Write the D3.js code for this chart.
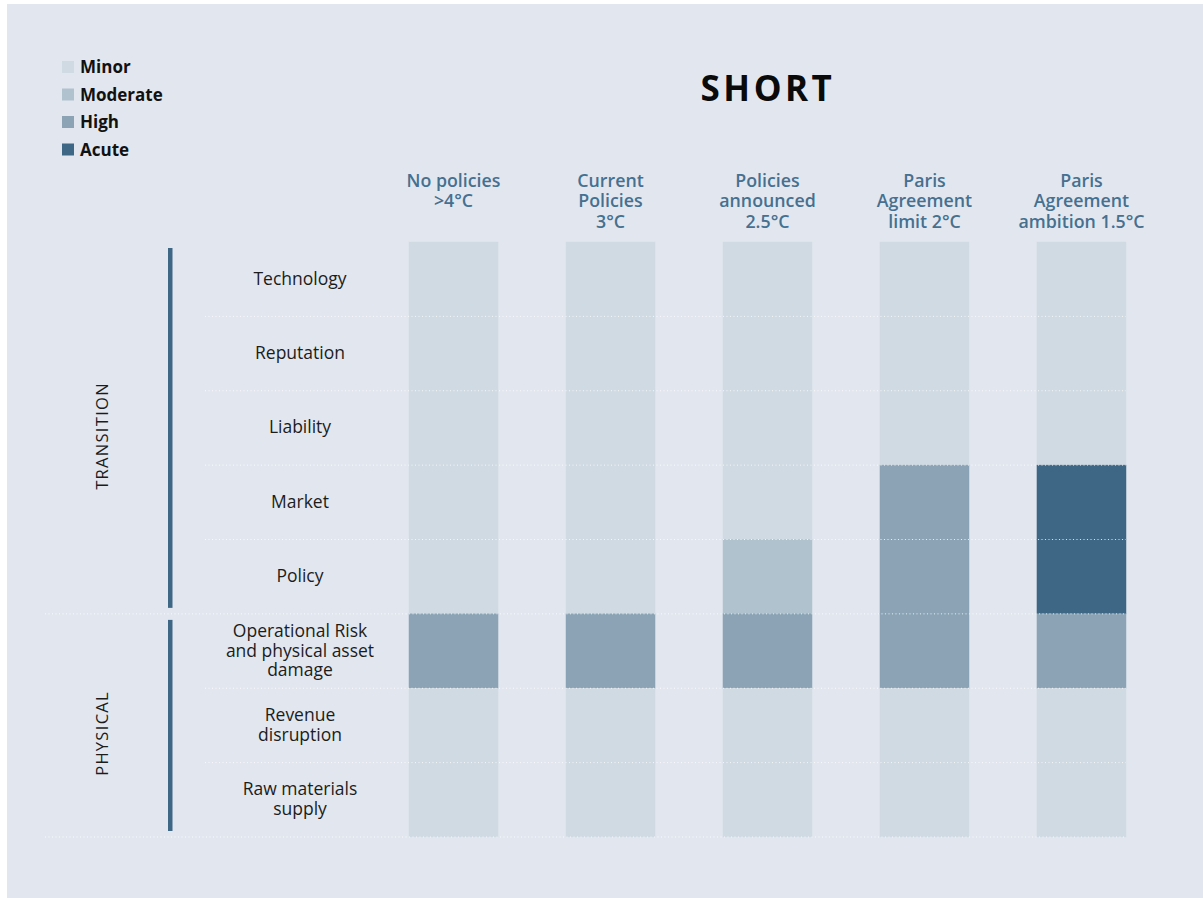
<!DOCTYPE html>
<html>
<head>
    <meta charset="utf-8">
    <script type="text/javascript" src="https://d3js.org/d3.v7.min.js"></script>
    <style>
body {
	margin: 0;
	background: #fff;
}

svg {
	display: block;
	font-family: "Open Sans", "Lato", sans-serif;
}

.rowLabel {
	fill: #1c1c1c;
	font-size: 17.5px;
}

.colLabel {
	fill: #46708f;
	font-size: 17.8px;
	font-weight: 600;
}

.legendLabel {
	fill: #111;
	font-size: 17px;
	font-weight: 700;
}

.grid {
	stroke: #fff;
	stroke-width: 1;
	stroke-dasharray: 1,2.5;
	opacity: 0.8;
}
    </style>
</head>
<body>
	<svg class="riskChart" width="1203" height="898"></svg>

    <script type="text/javascript">

	var scenarios = ["No policies\n>4\u00B0C", "Current\nPolicies\n3\u00B0C", "Policies\nannounced\n2.5\u00B0C", "Paris\nAgreement\nlimit 2\u00B0C", "Paris\nAgreement\nambition 1.5\u00B0C"];
	var risks = ["Technology", "Reputation", "Liability", "Market", "Policy", "Operational Risk\nand physical asset\ndamage", "Revenue\ndisruption", "Raw materials\nsupply"];
	var groups = ["TRANSITION", "PHYSICAL"];
	var groupRows = [[0, 4], [5, 7]]; // first and last row of each group
	var levels = ["Minor", "Moderate", "High", "Acute"];
	var levelColors = ["#d0dae2", "#b0c2ce", "#8ba3b5", "#3e6685"];

	// 0 = Minor ... 3 = Acute, one array per risk row
	var technology = [0, 0, 0, 0, 0],
		reputation = [0, 0, 0, 0, 0],
		liability = [0, 0, 0, 0, 0],
		market = [0, 0, 0, 2, 3],
		policy = [0, 0, 1, 2, 3],
		operational = [2, 2, 2, 2, 2],
		revenue = [0, 0, 0, 0, 0],
		rawMaterials = [0, 0, 0, 0, 0];
	var matrix = [technology, reputation, liability, market, policy, operational, revenue, rawMaterials];

	var cells = [];
	matrix.forEach(function(row, r) {
		row.forEach(function(v, c) {
			cells.push({risk: risks[r], scenario: scenarios[c], level: v});
		});
	});

	var svg = d3.select(".riskChart");

	// panel background
	svg.append("rect")
		.attr("x", 7).attr("y", 4)
		.attr("width", 1196).attr("height", 894)
		.attr("fill", "#e2e7ef");

	var xScale = d3.scaleBand()
		.domain(scenarios)
		.range([375, 1160])
		.paddingInner(0.433)
		.paddingOuter(0.2166);

	var yScale = d3.scaleBand()
		.domain(risks)
		.range([242, 837]);

	var colorScale = d3.scaleOrdinal()
		.domain(d3.range(levels.length))
		.range(levelColors);

	// cells
	svg.append("g").selectAll("rect")
		.data(cells)
		.enter().append("rect")
		.attr("x", function(d) { return xScale(d.scenario); })
		.attr("y", function(d) { return yScale(d.risk); })
		.attr("width", xScale.bandwidth())
		.attr("height", yScale.bandwidth())
		.attr("fill", function(d) { return colorScale(d.level); })
		.attr("stroke", function(d) { return colorScale(d.level); })
		.attr("stroke-width", 0.5);

	// dotted row separators
	var xEnd = xScale(scenarios[scenarios.length - 1]) + xScale.bandwidth();
	var lineRows = d3.range(1, risks.length + 1);
	svg.append("g").selectAll("line")
		.data(lineRows)
		.enter().append("line")
		.attr("class", "grid")
		.attr("x1", function(i) { return (i == groupRows[0][1] + 1 || i == risks.length) ? 45 : 205; })
		.attr("x2", xEnd)
		.attr("y1", function(i) { return i < risks.length ? yScale(risks[i]) : yScale.range()[1]; })
		.attr("y2", function(i) { return i < risks.length ? yScale(risks[i]) : yScale.range()[1]; });

	// row labels
	var rowLabels = svg.append("g").selectAll("text")
		.data(risks)
		.enter().append("text")
		.attr("class", "rowLabel")
		.attr("text-anchor", "middle")
		.attr("transform", function(d) {
			return "translate(300," + (yScale(d) + yScale.bandwidth() / 2) + ")";
		});
	rowLabels.each(function(d) {
		var lines = d.split("\n");
		var t = d3.select(this);
		lines.forEach(function(l, i) {
			t.append("tspan")
				.attr("x", 0)
				.attr("y", (i - (lines.length - 1) / 2) * 19.8 + 5.5)
				.text(l);
		});
	});

	// column headers
	var colLabels = svg.append("g").selectAll("text")
		.data(scenarios)
		.enter().append("text")
		.attr("class", "colLabel")
		.attr("text-anchor", "middle")
		.attr("transform", function(d) {
			return "translate(" + (xScale(d) + xScale.bandwidth() / 2) + ",186.5)";
		});
	colLabels.each(function(d) {
		var t = d3.select(this);
		d.split("\n").forEach(function(l, i) {
			t.append("tspan")
				.attr("x", 0)
				.attr("y", i * 20.5)
				.text(l);
		});
	});

	// group bars and labels
	var groupG = svg.append("g").selectAll("g")
		.data(groups)
		.enter().append("g");

	groupG.append("rect")
		.attr("x", 168)
		.attr("width", 4.5)
		.attr("y", function(d, i) { return yScale(risks[groupRows[i][0]]) + 6; })
		.attr("height", function(d, i) {
			return yScale(risks[groupRows[i][1]]) + yScale.bandwidth() - yScale(risks[groupRows[i][0]]) - 12;
		})
		.attr("fill", "#3e6685");

	groupG.append("text")
		.attr("text-anchor", "middle")
		.attr("font-size", 16.5)
		.attr("letter-spacing", 1.3)
		.attr("fill", "#1c1c1c")
		.attr("transform", function(d, i) {
			var y0 = yScale(risks[groupRows[i][0]]),
				y1 = yScale(risks[groupRows[i][1]]) + yScale.bandwidth();
			return "translate(108," + ((y0 + y1) / 2 + 8) + ") rotate(-90)";
		})
		.text(function(d) { return d; });

	// title
	svg.append("text")
		.attr("x", 768)
		.attr("y", 101)
		.attr("text-anchor", "middle")
		.attr("font-size", 35)
		.attr("font-weight", 700)
		.attr("letter-spacing", 3.5)
		.attr("fill", "#0a0a0a")
		.text("SHORT");

	// legend
	var legend = svg.append("g").selectAll("g")
		.data(levels)
		.enter().append("g")
		.attr("transform", function(d, i) { return "translate(62," + (67 + i * 27.5) + ")"; });

	legend.append("rect")
		.attr("x", 0).attr("y", -6)
		.attr("width", 12).attr("height", 12)
		.attr("fill", function(d, i) { return colorScale(i); });

	legend.append("text")
		.attr("class", "legendLabel")
		.attr("x", 18)
		.attr("y", 6)
		.text(function(d) { return d; });

	</script>
</body>
</html>
